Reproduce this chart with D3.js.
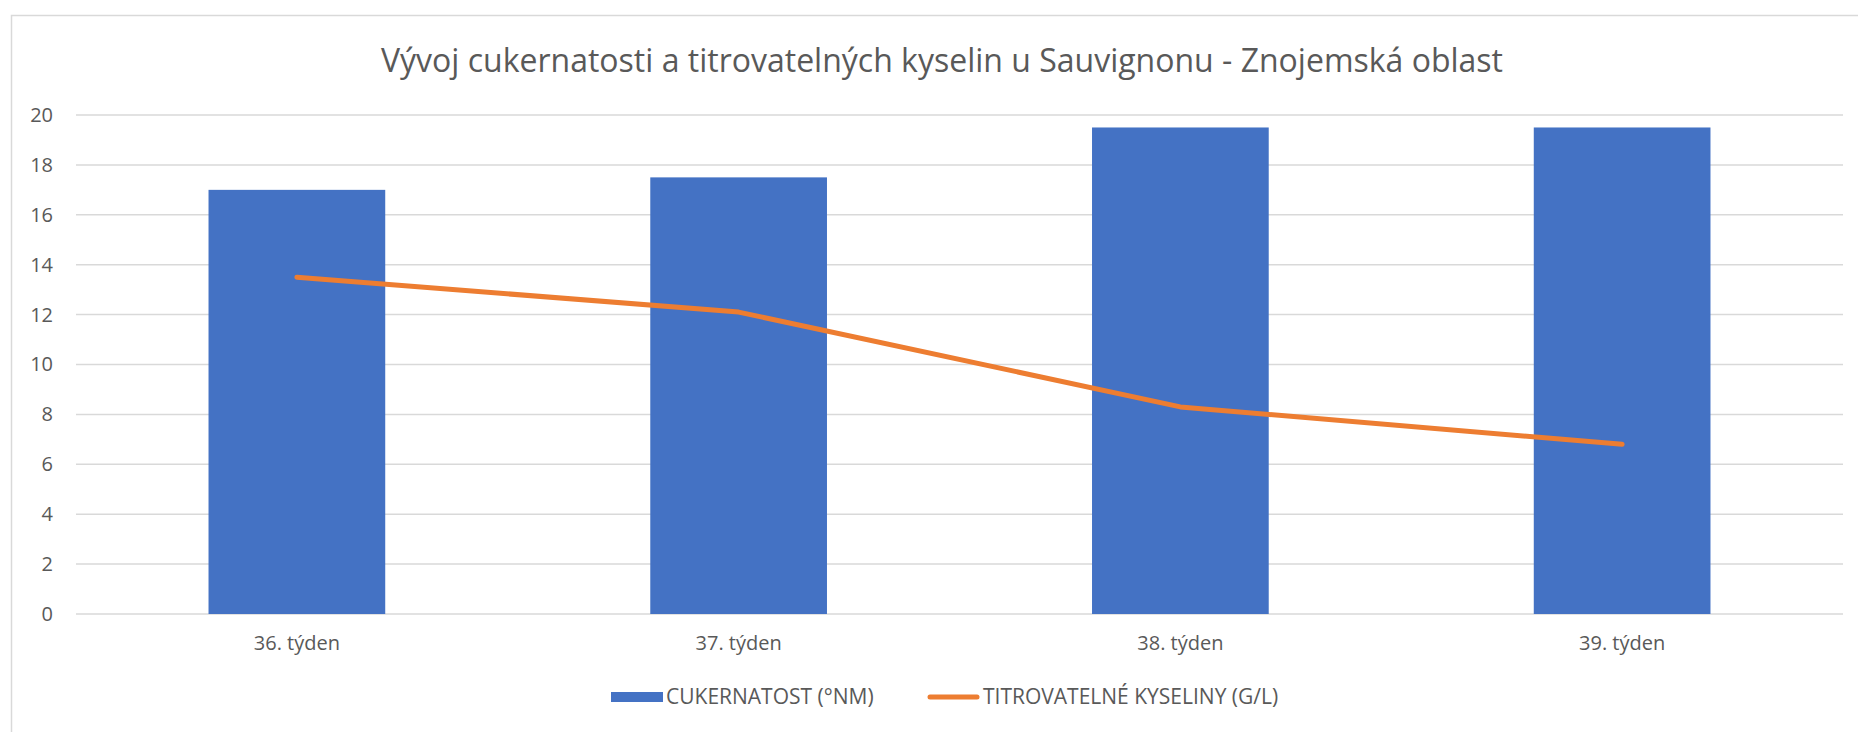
<!DOCTYPE html>
<html>
<head>
<meta charset="utf-8">
<script src="https://cdn.jsdelivr.net/npm/d3@7"></script>
<style>
  body { margin: 0; background: #fff; overflow: hidden; }
  text { font-family: "Open Sans", "Noto Sans", sans-serif; fill: #595959; }
</style>
</head>
<body>
<script>
// data
var weeks = ["36. týden", "37. týden", "38. týden", "39. týden"];
var sugar = [17, 17.5, 19.5, 19.5];     // CUKERNATOST (°NM)
var acids = [13.5, 12.1, 8.3, 6.8];     // TITROVATELNÉ KYSELINY (G/L)
var yTicks = [0, 2, 4, 6, 8, 10, 12, 14, 16, 18, 20];

var svgWidth = 1858;
var svgHeight = 732;

var margin = { top: 115, right: 15, bottom: 118, left: 76 };
var width = svgWidth - margin.left - margin.right;
var height = svgHeight - margin.top - margin.bottom;

var svg = d3.select("body")
  .append("svg")
  .attr("width", svgWidth)
  .attr("height", svgHeight);

// chart frame (runs off the right and bottom edge)
svg.append("rect")
  .attr("x", 11.5)
  .attr("y", 15.5)
  .attr("width", 1900)
  .attr("height", 800)
  .attr("fill", "#fff")
  .attr("stroke", "#d9d9d9")
  .attr("stroke-width", 1.5);

svg.append("text")
  .attr("x", 942)
  .attr("y", 72)
  .attr("text-anchor", "middle")
  .style("font-size", "32px")
  .text("Vývoj cukernatosti a titrovatelných kyselin u Sauvignonu - Znojemská oblast");

var chartGroup = svg.append("g")
  .attr("transform", `translate(${margin.left}, ${margin.top})`);

var xScale = d3.scaleBand()
  .domain(weeks)
  .range([0, width])
  .paddingInner(0.6)
  .paddingOuter(0.3);

var yScale = d3.scaleLinear()
  .domain([0, 20])
  .range([height, 0]);

// gridlines
chartGroup.append("g")
  .selectAll("line")
  .data(yTicks)
  .enter()
  .append("line")
  .attr("x1", 0)
  .attr("x2", width)
  .attr("y1", d => yScale(d))
  .attr("y2", d => yScale(d))
  .attr("stroke", "#d9d9d9")
  .attr("stroke-width", 1.5);

// y axis labels
var leftAxis = d3.axisLeft(yScale).tickValues(yTicks).tickSize(0).tickPadding(23);
var yAxis = chartGroup.append("g").call(leftAxis);
yAxis.select(".domain").remove();
yAxis.selectAll("text")
  .style("font-size", "20px")
  .style("font-family", "\"Open Sans\", sans-serif")
  .attr("fill", "#595959");

// bars
chartGroup.selectAll(".bar")
  .data(sugar)
  .enter()
  .append("rect")
  .attr("class", "bar")
  .attr("x", (d, i) => xScale(weeks[i]))
  .attr("y", d => yScale(d))
  .attr("width", xScale.bandwidth())
  .attr("height", d => height - yScale(d))
  .attr("fill", "#4472c4");

// line
var line = d3.line()
  .x((d, i) => xScale(weeks[i]) + xScale.bandwidth() / 2)
  .y(d => yScale(d));

chartGroup.append("path")
  .datum(acids)
  .attr("d", line)
  .attr("fill", "none")
  .attr("stroke", "#ed7d31")
  .attr("stroke-width", 5)
  .attr("stroke-linecap", "round")
  .attr("stroke-linejoin", "round");

// x axis labels
var bottomAxis = d3.axisBottom(xScale).tickSize(0).tickPadding(22);
var xAxis = chartGroup.append("g")
  .attr("transform", `translate(0, ${height})`)
  .call(bottomAxis);
xAxis.select(".domain").remove();
xAxis.selectAll("text")
  .style("font-size", "20px")
  .style("font-family", "\"Open Sans\", sans-serif")
  .attr("fill", "#595959");

// legend
var legend = svg.append("g").attr("transform", "translate(0, 697)");

legend.append("rect")
  .attr("x", 611)
  .attr("y", -5)
  .attr("width", 52)
  .attr("height", 10)
  .attr("fill", "#4472c4");

legend.append("text")
  .attr("x", 666)
  .attr("y", 0)
  .attr("dy", "0.35em")
  .style("font-size", "21px")
  .text("CUKERNATOST (°NM)");

legend.append("line")
  .attr("x1", 930)
  .attr("x2", 977)
  .attr("y1", 0)
  .attr("y2", 0)
  .attr("stroke", "#ed7d31")
  .attr("stroke-width", 5)
  .attr("stroke-linecap", "round");

legend.append("text")
  .attr("x", 983)
  .attr("y", 0)
  .attr("dy", "0.35em")
  .style("font-size", "21px")
  .text("TITROVATELNÉ KYSELINY (G/L)");
</script>
</body>
</html>
